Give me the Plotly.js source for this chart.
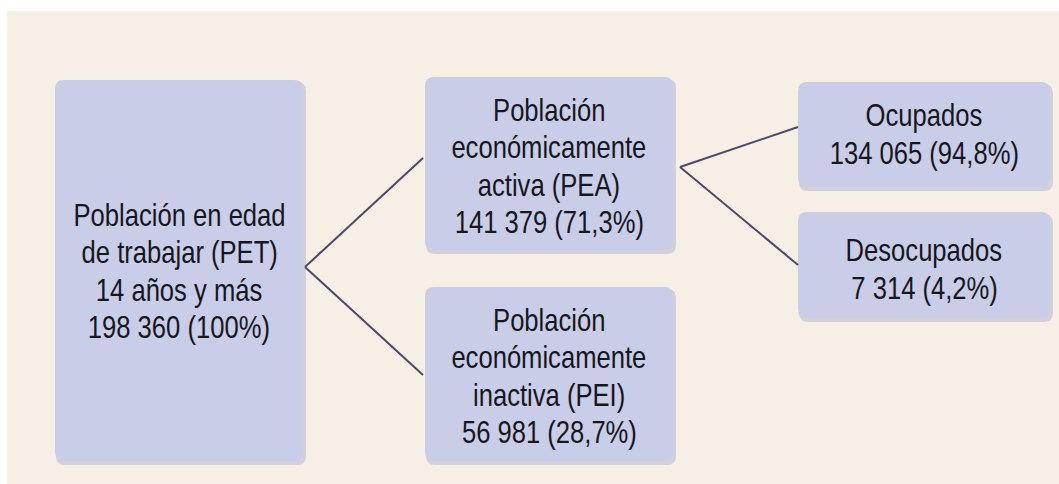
<!DOCTYPE html>
<html>
<head>
<meta charset="utf-8">
<script src="https://cdn.plot.ly/plotly-3.0.1.min.js"></script>
<style>
html,body{margin:0;padding:0;background:#fff;}
#chart{width:1059px;height:484px;}
#chart text.annotation-text{transform-box:fill-box;transform-origin:center;transform:scaleX(0.8);}
</style>
</head>
<body>
<div id="chart"></div>
<script>
// ---- Data ----
const nodeNames = [
  ["Población en edad", "de trabajar (PET)", "14 años y más"],
  ["Población", "económicamente", "activa (PEA)"],
  ["Población", "económicamente", "inactiva (PEI)"],
  ["Ocupados"],
  ["Desocupados"]
];
const nodeValues = [198360, 141379, 56981, 134065, 7314];
const nodePercents = [100, 71.3, 28.7, 94.8, 4.2];
const linkParents = [0, 0, 1, 1];
const linkChildren = [1, 2, 3, 4];

// ---- Layout geometry (pixels) ----
const boxes = [
  {x0: 55,  x1: 303,  y0: 80,  y1: 461},
  {x0: 425, x1: 673,  y0: 77,  y1: 250},
  {x0: 425, x1: 673,  y0: 287, y1: 461},
  {x0: 798, x1: 1050, y0: 82,  y1: 187},
  {x0: 798, x1: 1050, y0: 212, y1: 318}
];
const forkPoints = {0: [305, 267], 1: [680, 167]};
const linkEnds = {1: [423, 158], 2: [423, 375], 3: [798, 127], 4: [798, 265]};
const textCenters = [[179, 271], [549, 166], [549, 376], [924, 134], [924, 269]];
const lineGap = 37.5;

function fmtNum(v) { return String(v).replace(/\B(?=(\d{3})+(?!\d))/g, " "); }
function fmtPct(p) { return (Number.isInteger(p) ? String(p) : p.toFixed(1).replace(".", ",")) + "%"; }

function roundRect(b, r) {
  const {x0, x1, y0, y1} = b;
  return `M${x0 + r},${y0} L${x1 - r},${y0} Q${x1},${y0} ${x1},${y0 + r} L${x1},${y1 - r} Q${x1},${y1} ${x1 - r},${y1} L${x0 + r},${y1} Q${x0},${y1} ${x0},${y1 - r} L${x0},${y0 + r} Q${x0},${y0} ${x0 + r},${y0} Z`;
}

const shapes = [];
shapes.push({type: "rect", xref: "x", yref: "y", x0: 7, x1: 1059, y0: 11, y1: 484,
  fillcolor: "#F6EFE5", line: {width: 0}, layer: "below"});
boxes.forEach(b => {
  shapes.push({type: "path", xref: "x", yref: "y",
    path: roundRect({x0: b.x0 + 1, x1: b.x1 + 3, y0: b.y0 + 2, y1: b.y1 + 4}, 9),
    fillcolor: "rgba(170,170,205,0.45)", line: {width: 0}, layer: "below"});
  shapes.push({type: "path", xref: "x", yref: "y", path: roundRect(b, 9),
    fillcolor: "#C9CDE8", line: {width: 0}, layer: "below"});
});

const traces = linkParents.map((p, i) => {
  const c = linkChildren[i];
  return {type: "scatter", mode: "lines",
    x: [forkPoints[p][0], linkEnds[c][0]],
    y: [forkPoints[p][1], linkEnds[c][1]],
    line: {color: "#4E4969", width: 2}, hoverinfo: "skip", showlegend: false};
});

const annotations = [];
nodeNames.forEach((lines, i) => {
  const all = lines.concat([fmtNum(nodeValues[i]) + " (" + fmtPct(nodePercents[i]) + ")"]);
  const n = all.length;
  all.forEach((t, k) => {
    annotations.push({xref: "x", yref: "y", x: textCenters[i][0],
      y: textCenters[i][1] + (k - (n - 1) / 2) * lineGap,
      text: t, showarrow: false, xanchor: "center", yanchor: "middle",
      font: {family: "'Liberation Sans', Arial, sans-serif", size: 32, color: "#16161F"}});
  });
});

const layout = {
  width: 1059, height: 484,
  margin: {l: 0, r: 0, t: 0, b: 0},
  paper_bgcolor: "#FFFFFF", plot_bgcolor: "rgba(0,0,0,0)",
  xaxis: {range: [0, 1059], visible: false, fixedrange: true},
  yaxis: {range: [484, 0], visible: false, fixedrange: true},
  shapes: shapes, annotations: annotations, showlegend: false
};
Plotly.newPlot("chart", traces, layout, {staticPlot: true, displayModeBar: false});
</script>
</body>
</html>
